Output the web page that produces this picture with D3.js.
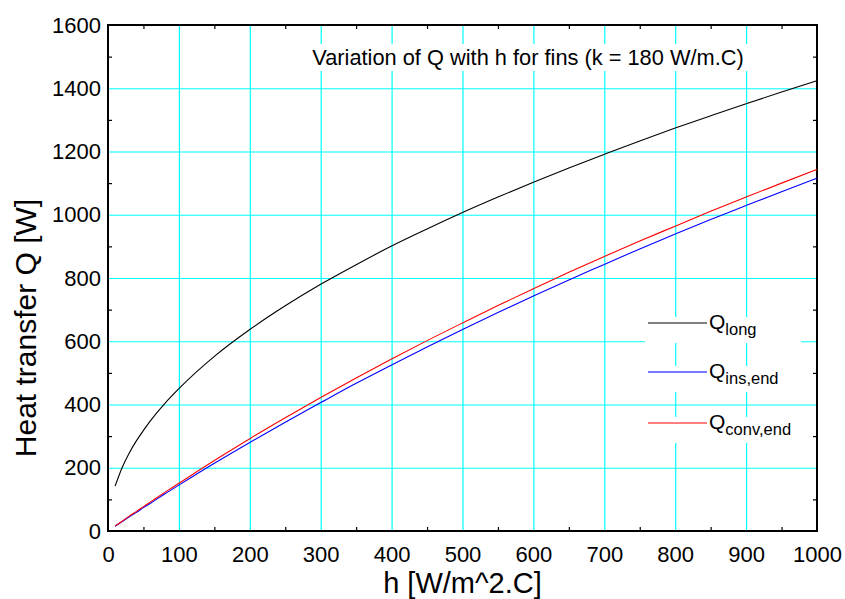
<!DOCTYPE html>
<html>
<head>
<meta charset="utf-8">
<script src="https://cdn.jsdelivr.net/npm/d3@7"></script>
<style>
  body { margin: 0; background: #fff; }
  text { font-family: "Liberation Sans", Arial, sans-serif; fill: #000; }
</style>
</head>
<body>
<svg id="chart" width="845" height="599"></svg>
<script>
// Heat transfer from a fin vs. convection coefficient h
const hValues = [10, 20, 30, 40, 50, 60, 80, 100, 150, 200, 250, 300, 350, 400, 450,
                 500, 550, 600, 650, 700, 750, 800, 850, 900, 950, 1000];
const qLong    = [142, 201, 247, 285, 318, 349, 403, 450, 552, 637, 712, 780, 842, 901, 955,
                  1007, 1056, 1103, 1148, 1191, 1233, 1274, 1313, 1351, 1388, 1424];
const qInsEnd  = [15, 30, 45, 59, 74, 88, 117, 145, 214, 280, 344, 406, 467, 525, 582,
                  637, 691, 743, 794, 843, 892, 939, 985, 1029, 1073, 1116];
const qConvEnd = [16, 31, 47, 62, 77, 92, 122, 151, 223, 292, 358, 422, 484, 544, 602,
                  658, 713, 766, 818, 868, 917, 964, 1011, 1056, 1100, 1143];

const xMajor = [0, 100, 200, 300, 400, 500, 600, 700, 800, 900, 1000];
const xMinor = [50, 150, 250, 350, 450, 550, 650, 750, 850, 950];
const yMajor = [0, 200, 400, 600, 800, 1000, 1200, 1400, 1600];
const yMinor = [100, 300, 500, 700, 900, 1100, 1300, 1500];

const titleText = "Variation of Q with h for fins (k = 180 W/m.C)";
const xTitle = "h [W/m^2.C]";
const yTitle = "Heat transfer Q [W]";
const legendItems = [
  { main: "Q", sub: "long",     color: "#000000", values: qLong },
  { main: "Q", sub: "ins,end",  color: "#0000ff", values: qInsEnd },
  { main: "Q", sub: "conv,end", color: "#ff0000", values: qConvEnd }
];

const L = 108, R = 817, T = 25, B = 531;
const W = R - L, H = B - T;

const svg = d3.select("#chart");
const x = d3.scaleLinear().domain([0, 1000]).range([L, R]);
const y = d3.scaleLinear().domain([0, 1600]).range([B, T]);

// cyan grid
const grid = svg.append("g");
grid.append("g")
  .attr("transform", `translate(0,${B})`)
  .call(d3.axisBottom(x).tickValues(xMajor.slice(1, -1)).tickSize(-H).tickFormat(""))
  .call(g => g.select(".domain").remove())
  .call(g => g.selectAll("line").attr("stroke", "#00ffff").attr("stroke-width", 1.2));
grid.append("g")
  .attr("transform", `translate(${L},0)`)
  .call(d3.axisLeft(y).tickValues(yMajor.slice(1, -1)).tickSize(-W).tickFormat(""))
  .call(g => g.select(".domain").remove())
  .call(g => g.selectAll("line").attr("stroke", "#00ffff").attr("stroke-width", 1.2));

// white backing for title and legend entries
svg.append("rect").attr("x", 306).attr("y", 44).attr("width", 448).attr("height", 27).attr("fill", "#fff");
const legendY = [323, 372, 423];
legendY.forEach(ly => {
  svg.append("rect").attr("x", 645).attr("y", ly - 6).attr("width", 156).attr("height", 26).attr("fill", "#fff");
});

// minor ticks on all four sides, pointing inward
const tk = 4;
const minorAxes = [
  { axis: d3.axisBottom(x).tickValues(xMinor).tickSize(-tk), tr: `translate(0,${B})` },
  { axis: d3.axisTop(x).tickValues(xMinor).tickSize(-tk),    tr: `translate(0,${T})` },
  { axis: d3.axisLeft(y).tickValues(yMinor).tickSize(-tk),   tr: `translate(${L},0)` },
  { axis: d3.axisRight(y).tickValues(yMinor).tickSize(-tk),  tr: `translate(${R},0)` }
];
minorAxes.forEach(m => {
  svg.append("g").attr("transform", m.tr)
    .call(m.axis.tickFormat(""))
    .call(g => g.select(".domain").remove())
    .call(g => g.selectAll("line").attr("stroke", "#000").attr("stroke-width", 1.2));
});

// tick labels
svg.append("g").attr("transform", `translate(0,${B})`)
  .call(d3.axisBottom(x).tickValues(xMajor).tickSize(0).tickPadding(15).tickFormat(d3.format("d")))
  .call(g => g.select(".domain").remove())
  .call(g => g.selectAll("text").attr("font-size", "22px")
    .attr("font-family", "Liberation Sans, Arial, sans-serif").attr("fill", "#000"));
svg.append("g").attr("transform", `translate(${L},0)`)
  .call(d3.axisLeft(y).tickValues(yMajor).tickSize(0).tickPadding(7).tickFormat(d3.format("d")))
  .call(g => g.select(".domain").remove())
  .call(g => g.selectAll("text").attr("font-size", "22px")
    .attr("font-family", "Liberation Sans, Arial, sans-serif").attr("fill", "#000"));

// plot frame
svg.append("rect").attr("x", L).attr("y", T).attr("width", W).attr("height", H)
  .attr("fill", "none").attr("stroke", "#000").attr("stroke-width", 2);

// curves
const line = d3.line().x((d, i) => x(hValues[i])).y(d => y(d)).curve(d3.curveMonotoneX);
legendItems.forEach(s => {
  svg.append("path").datum(s.values)
    .attr("d", line).attr("fill", "none").attr("stroke", s.color).attr("stroke-width", 1.1);
});

// title
svg.append("text").attr("x", 528).attr("y", 65).attr("text-anchor", "middle")
  .attr("font-size", "21.8px").text(titleText);

// axis titles
svg.append("text").attr("x", (L + R) / 2).attr("y", 593).attr("text-anchor", "middle")
  .attr("font-size", "29px").text(xTitle);
svg.append("text").attr("transform", `translate(36,${(T + B) / 2 + 50}) rotate(-90)`)
  .attr("text-anchor", "middle").attr("font-size", "30px").text(yTitle);

// legend
legendItems.forEach((s, i) => {
  const ly = legendY[i];
  svg.append("line").attr("x1", 648).attr("x2", 707).attr("y1", ly).attr("y2", ly)
    .attr("stroke", s.color).attr("stroke-width", i === 1 ? 1.6 : 1.1)
    .attr("stroke-opacity", i === 1 ? 0.7 : 1);
  const t = svg.append("text").attr("x", 709).attr("y", ly + 6).attr("font-size", "21px");
  t.append("tspan").text(s.main);
  t.append("tspan").attr("dy", 6).attr("font-size", "16.5px").text(s.sub);
});
</script>
</body>
</html>
